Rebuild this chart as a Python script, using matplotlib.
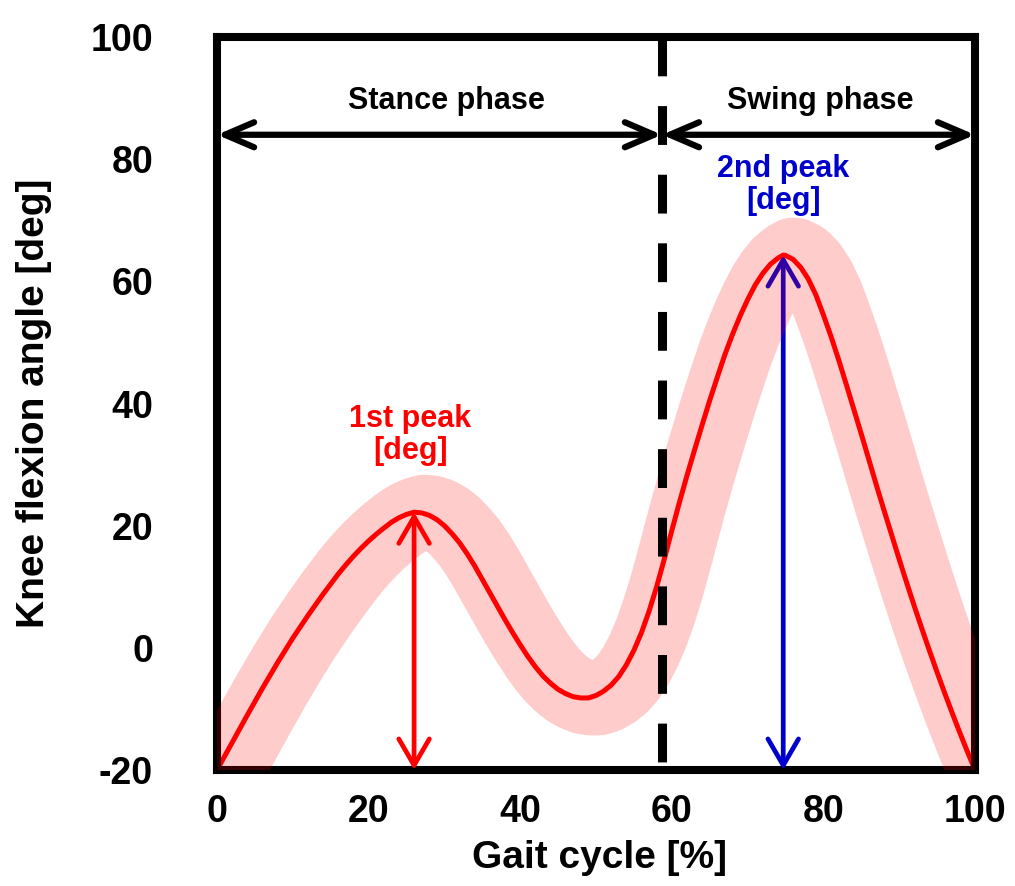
import matplotlib
matplotlib.use("Agg")
import matplotlib.pyplot as plt
import numpy as np
from matplotlib.transforms import ScaledTranslation

# knee flexion curve (gait cycle %, degrees)
gait_pct = [0, 2, 4, 6, 8, 10, 12, 14, 16, 17, 18, 19, 20, 21, 22, 23, 24, 25, 26, 27, 28,
            29, 30, 31, 32, 33, 34, 35, 36, 37, 38, 39, 40, 41, 42, 43, 44, 45, 46, 47, 48,
            49, 50, 51, 52, 53, 54, 55, 56, 57, 58, 59, 60, 61, 62, 63, 64, 65, 66, 67, 68,
            69, 70, 71, 72, 73, 74, 74.7, 75, 76, 77, 78, 79, 80, 81, 82, 83, 84, 85, 86,
            87, 88, 89, 90, 91, 92, 93, 94, 95, 96, 97, 98, 99, 100]
knee_deg = [-20, -15.5, -11, -6.6, -2.4, 1.6, 5.3, 8.8, 12.1, 13.6, 15.0, 16.3, 17.5, 18.6,
            19.6, 20.55, 21.3, 21.85, 22.2, 22.1, 21.7, 21.0, 20.0, 18.7, 17.2, 15.4, 13.4,
            11.2, 9.0, 6.8, 4.6, 2.5, 0.5, -1.4, -3.1, -4.6, -5.8, -6.8, -7.5, -8.0, -8.2,
            -8.2, -7.8, -7.1, -6.1, -4.7, -2.8, -0.4, 2.5, 6.0, 10.0, 14.5, 19.2, 23.8, 28.2,
            32.4, 36.5, 40.5, 44.3, 48.0, 51.3, 54.3, 57.0, 59.4, 61.3, 62.8, 63.8, 64.3,
            64.25, 63.6, 62.3, 60.4, 57.8, 54.5, 51.0, 47.2, 43.2, 39.1, 35.0, 30.8, 26.6,
            22.5, 18.5, 14.5, 10.6, 6.8, 3.1, -0.5, -4.0, -7.4, -10.7, -13.9, -17.0, -20]

phase_split = 58.7
phase_labels = ["Stance phase", "Swing phase"]
peak_labels = ["1st peak\n[deg]", "2nd peak\n[deg]"]
x_ticks = [0, 20, 40, 60, 80, 100]
y_ticks = [-20, 0, 20, 40, 60, 80, 100]

plt.rcParams["font.family"] = ["Liberation Sans", "DejaVu Sans"]
plt.rcParams["font.weight"] = "bold"
plt.rcParams["axes.labelweight"] = "bold"
plt.rcParams["axes.unicode_minus"] = False

x = np.array(gait_pct)
y = np.array(knee_deg)
first = x < 50
i1 = np.argmax(np.where(first, y, -np.inf))
i2 = np.argmax(np.where(~first, y, -np.inf))
peak1 = (x[i1], y[i1])
peak2 = (x[i2], y[i2])

fig = plt.figure(figsize=(10.15, 8.86), dpi=100)
ax = fig.add_axes([0.2138, 0.1309, 0.7468, 0.8273])
ax.set_xlim(0, 100)
ax.set_ylim(-20, 100)

# mean curve and the shaded spread (drawn as a thick translucent stroke)
ax.plot(x, y, color="#FF0000", lw=3.6, zorder=2, solid_capstyle="butt")
band_tf = ax.transData + ScaledTranslation(0.10, 0, fig.dpi_scale_trans)
ax.plot(x, y, color="#FF0000", alpha=0.2, lw=54, transform=band_tf, zorder=3,
        solid_capstyle="projecting", solid_joinstyle="round")

# peak arrows
ax.annotate("", xy=(peak2[0], peak2[1]), xytext=(peak2[0], -20),
            arrowprops=dict(arrowstyle="<->,head_length=1.9,head_width=1.1", mutation_scale=10,
                            lw=3.4, color="#0000CC", shrinkA=0, shrinkB=0), zorder=2.6)
ax.annotate("", xy=(peak1[0], peak1[1]), xytext=(peak1[0], -20),
            arrowprops=dict(arrowstyle="<->,head_length=1.9,head_width=1.1", mutation_scale=10,
                            lw=3.4, color="#FF0000", shrinkA=0, shrinkB=0), zorder=4)
ax.text(peak1[0] - 0.5, 34.8, peak_labels[0], color="#FF0000", fontsize=22, ha="center",
        va="center", linespacing=1.1)
ax.text(peak2[0], 75.8, peak_labels[1], color="#0000CC", fontsize=22, ha="center",
        va="center", linespacing=1.1)

# stance / swing split
split, = ax.plot([phase_split, phase_split], [100, -20], color="black", lw=6.5, zorder=4)
split.set_dashes([4.3, 3.3])
for x0, x1 in [(0, phase_split), (phase_split, 100)]:
    ax.annotate("", xy=(x1, 84), xytext=(x0, 84),
                arrowprops=dict(arrowstyle="<->,head_length=2.1,head_width=0.9", mutation_scale=10,
                                lw=4.5, color="black", shrinkA=0, shrinkB=0), zorder=5)
ax.text(30.3, 89.5, phase_labels[0], fontsize=22, ha="center", va="center")
ax.text(79.6, 89.5, phase_labels[1], fontsize=22, ha="center", va="center")

ax.set_xticks(x_ticks)
ax.set_yticks(y_ticks)
ax.tick_params(axis="both", length=0, labelsize=27)
ax.tick_params(axis="y", pad=46)
ax.tick_params(axis="x", pad=17)
for sp in ax.spines.values():
    sp.set_linewidth(5.8)

ax.set_xlabel("Gait cycle [%]", fontsize=28, va="center")
ax.set_ylabel("Knee flexion angle [deg]", fontsize=28, va="center")
ax.xaxis.set_label_coords(0.505, -0.12)
ax.yaxis.set_label_coords(-0.241, 0.5)

fig.savefig("out.png", dpi=100)
